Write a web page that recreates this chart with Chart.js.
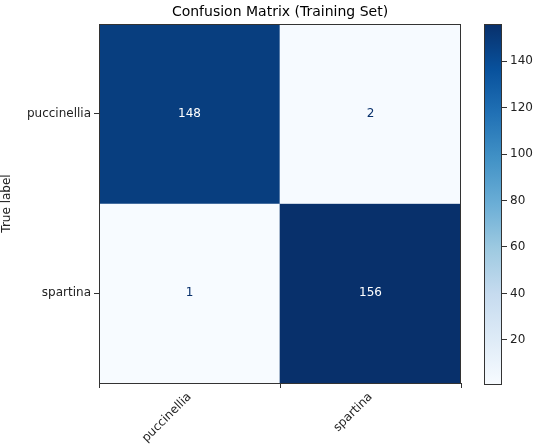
<!DOCTYPE html>
<html><head><meta charset="utf-8">
<script src="https://cdn.jsdelivr.net/npm/chart.js@4"></script>
<style>
body{margin:0;width:552px;height:444px;overflow:hidden;background:#fff;position:relative}
canvas{position:absolute;top:0}
</style></head><body>
<canvas id="cm" style="left:0" width="470" height="444"></canvas>
<canvas id="cb" style="left:470px" width="82" height="444"></canvas>
<script>
const classes = ['puccinellia', 'spartina'];
const row0 = [148, 2];   // true: puccinellia
const row1 = [1, 156];   // true: spartina
const cbTicks = [20, 40, 60, 80, 100, 120, 140];
const vmin = 1, vmax = 156;

Chart.defaults.font.family = 'DejaVu Sans';
Chart.defaults.font.size = 12;
Chart.defaults.color = '#222';

const blues = ['#f7fbff','#deebf7','#c6dbef','#9ecae1','#6baed6','#4292c6','#2171b5','#08519c','#08306b'];
function hex(h) { return [1,3,5].map(i => parseInt(h.substr(i,2),16)); }
function cmap(v) {
    let t = Math.max(0, Math.min(1, (v - vmin) / (vmax - vmin))) * 8;
    let i = Math.min(7, Math.floor(t)), f = t - i;
    const a = hex(blues[i]), b = hex(blues[i+1]);
    return 'rgb(' + a.map((c, k) => Math.round(c + (b[k]-c)*f)).join(',') + ')';
}

const frame = {
    id: 'frame',
    afterDraw(chart) {
        const {ctx, chartArea: a} = chart;
        ctx.save();
        ctx.strokeStyle = '#333'; ctx.lineWidth = 1;
        ctx.strokeRect(a.left + .5, a.top + .5, a.right - a.left - 1, a.bottom - a.top);
        ctx.restore();
    }
};

const cellText = {
    id: 'cellText',
    afterDatasetsDraw(chart) {
        const {ctx, scales: {x, y}, chartArea: a} = chart;
        ctx.save();
        ctx.textAlign = 'center'; ctx.textBaseline = 'middle';
        ctx.font = '12px DejaVu Sans';
        [row0, row1].forEach((row, r) => row.forEach((v, c) => {
            ctx.fillStyle = v > (vmin + vmax) / 2 ? '#ffffff' : '#08306b';
            ctx.fillText(String(v), x.getPixelForValue(c), y.getPixelForValue(r + 0.5));
        }));
        ctx.font = '14px DejaVu Sans';
        ctx.fillStyle = '#000';
        ctx.textBaseline = 'alphabetic';
        ctx.fillText('Confusion Matrix (Training Set)', (a.left + a.right) / 2, 16);
        ctx.restore();
    }
};

new Chart(document.getElementById('cm'), {
    type: 'bar',
    data: {
        labels: classes,
        datasets: [row0, row1].map((row, r) => ({
            data: row.map(() => [r, r + 1]),
            backgroundColor: row.map(cmap),
            borderWidth: 0,
            barPercentage: 1,
            categoryPercentage: 1,
            grouped: false
        }))
    },
    options: {
        responsive: false,
        animation: false,
        layout: { padding: { top: 24, right: 9, left: 0, bottom: 0 } },
        plugins: { legend: { display: false }, tooltip: { enabled: false } },
        scales: {
            x: {
                grid: { drawOnChartArea: false, tickLength: 5, color: '#333' },
                border: { display: false },
                ticks: { minRotation: 45, maxRotation: 45, padding: 2, color: '#222' },
                afterFit(s) { s.height = 61; }
            },
            y: {
                min: 0, max: 2, reverse: true,
                grid: { drawOnChartArea: false, tickLength: 5, color: '#333' },
                border: { display: false },
                title: { display: true, text: 'True label', padding: { top: 0, bottom: 2 } },
                afterBuildTicks(s) { s.ticks = [{ value: 0.5 }, { value: 1.5 }]; },
                ticks: { callback: (v) => classes[Math.floor(v)], padding: 3, color: '#222' },
                afterFit(s) { s.width = 99; }
            }
        }
    },
    plugins: [frame, cellText]
});

new Chart(document.getElementById('cb'), {
    type: 'bar',
    data: {
        labels: [''],
        datasets: [{
            data: [[vmin, vmax]],
            borderWidth: 0,
            barPercentage: 1,
            categoryPercentage: 1,
            backgroundColor(ctx) {
                const a = ctx.chart.chartArea;
                if (!a) return blues[8];
                const g = ctx.chart.ctx.createLinearGradient(0, a.bottom, 0, a.top);
                blues.forEach((c, i) => g.addColorStop(i / 8, c));
                return g;
            }
        }]
    },
    options: {
        responsive: false,
        animation: false,
        layout: { padding: { top: 24, left: 14, bottom: 60, right: 0 } },
        plugins: { legend: { display: false }, tooltip: { enabled: false } },
        scales: {
            x: { display: false },
            y: {
                position: 'right', min: vmin, max: vmax,
                grid: { drawOnChartArea: false, tickLength: 5, color: '#333' },
                border: { display: false },
                afterBuildTicks(s) { s.ticks = cbTicks.map(v => ({ value: v })); },
                ticks: { padding: 3, color: '#222' },
                afterFit(s) { s.width = 50; }
            }
        }
    },
    plugins: [frame]
});
</script>
</body></html>
